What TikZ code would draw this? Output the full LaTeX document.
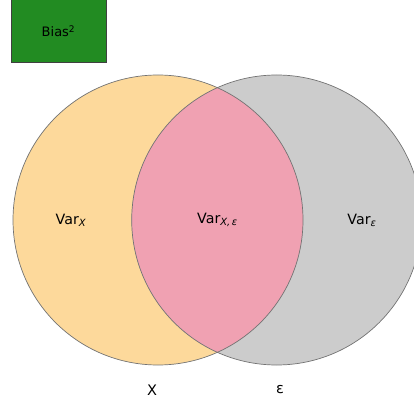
\documentclass[tikz,border=0pt]{standalone}
\usepackage{fontspec}
\setmainfont{DejaVu Sans}
\usepackage{xcolor}

\definecolor{setX}{RGB}{253,217,155}
\definecolor{setE}{RGB}{204,204,204}
\definecolor{both}{RGB}{240,161,178}
\definecolor{biasgreen}{RGB}{34,139,34}

\begin{document}
\begin{tikzpicture}[x=1pt,y=1pt,font=\fontsize{14.2}{16}\selectfont]

\def\rad{145}
\def\cy{187}
\def\cxA{158}
\def\cxB{276.7}

\useasboundingbox (0,0) rectangle (414,407);
\clip (0,0) rectangle (414,407);

% the two sets
\fill[setX] (\cxA,\cy) circle (\rad);
\fill[setE] (\cxB,\cy) circle (\rad);
\begin{scope}
  \clip (\cxA,\cy) circle (\rad);
  \fill[both] (\cxB,\cy) circle (\rad);
\end{scope}
\draw[black!55,line width=0.7pt] (\cxA,\cy) circle (\rad);
\draw[black!55,line width=0.7pt] (\cxB,\cy) circle (\rad);

\node (varX) at (71,187) {Var\textsubscript{\textit{X}}};
\node (varXE) at (217.5,187) {Var\textsubscript{\textit{X,\,ε}}};
\node (varE) at (362,187) {Var\textsubscript{\textit{ε}}};

\node (setXlbl) at (152,17) {\fontsize{14.5}{16}\selectfont X};
\node (setElbl) at (280,17) {\fontsize{14.5}{16}\selectfont ε};

% bias box
\draw[fill=biasgreen,draw=black!75,line width=0.8pt] (11,344.5) rectangle (106.5,410);
\node (bias) at (58.5,376) {\fontsize{13}{15}\selectfont Bias\textsuperscript{2}};

\end{tikzpicture}
\end{document}
